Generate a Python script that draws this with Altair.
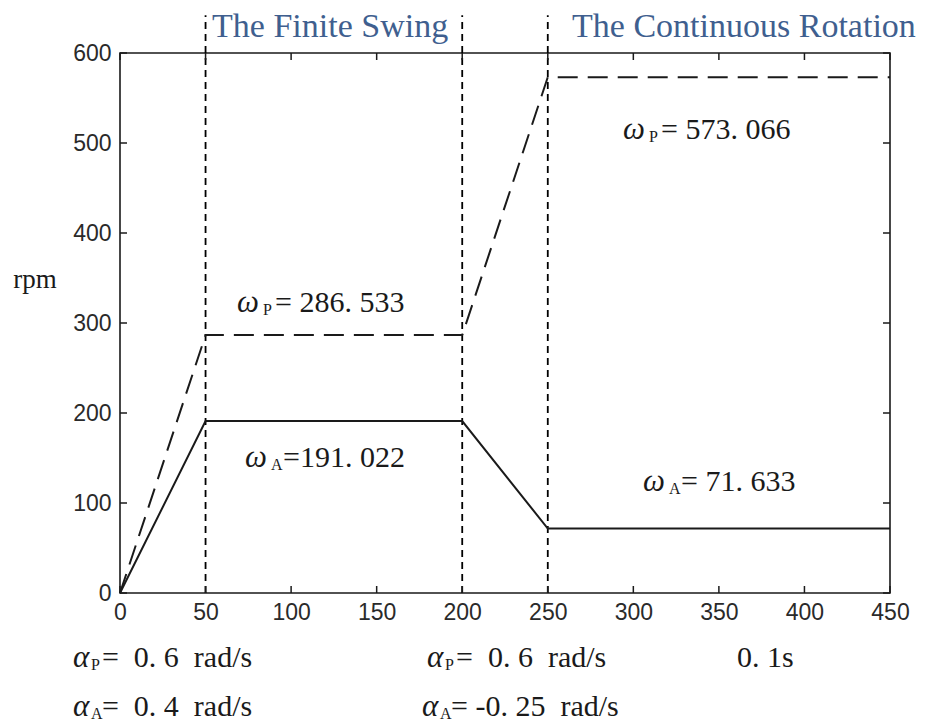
import altair as alt
import pandas as pd

# Speed profile of the two shafts (rpm) against time
t = [0, 50, 200, 250, 450]
omega_p = [0, 286.533, 286.533, 573.066, 573.066]
omega_a = [0, 191.022, 191.022, 71.633, 71.633]

phase_bounds = [50, 200, 250]
phase_names = ["The Finite Swing", "The Continuous Rotation"]
phase_name_x = [53.8, 264.2]

x_ticks = [0, 50, 100, 150, 200, 250, 300, 350, 400, 450]
y_ticks = [0, 100, 200, 300, 400, 500, 600]

# Symbol annotations: greek letter, subscript, value text, anchor (data units)
ann_greek = ["ω", "ω", "ω", "ω", "α", "α", "α", "α"]
ann_sub = ["P", "A", "P", "A", "P", "A", "P", "A"]
ann_value = [286.533, 191.022, 573.066, 71.633, 0.6, 0.4, 0.6, -0.25]
ann_kind = ["speed", "speed", "speed", "speed", "accel", "accel", "accel", "accel"]
ann_eq = ["=\u00a0", "=", "=\u00a0", "=\u00a0", "=\u00a0\u00a0", "=\u00a0\u00a0",
          "=\u00a0\u00a0", "=\u00a0"]
ann_x = [68.4, 73.1, 294.0, 305.7, -27.5, -27.5, 179.4, 176.5]
ann_y = [322.2, 150.0, 514.4, 123.3, -72.2, -126.7, -72.2, -126.7]

step_text = ["0.\u00a01s"]
step_x = [360.6]
step_y = [-72.2]

W, H = 770, 540
X_DOM = [0, 450]
Y_DOM = [0, 600]
KX = (X_DOM[1] - X_DOM[0]) / W
KY = (Y_DOM[1] - Y_DOM[0]) / H

SERIF = "Liberation Serif"
INK = "#1a1a1a"

xs = alt.Scale(domain=X_DOM, nice=False, zero=False)
ys = alt.Scale(domain=Y_DOM, nice=False, zero=False)
x_axis = alt.Axis(values=x_ticks, title=None, grid=False, domain=False, ticks=False,
                  tickSize=0, labelPadding=8, labelFont="Liberation Sans",
                  labelFontSize=23, labelColor="#2a2a2a", labelFlush=False)
y_axis = alt.Axis(values=y_ticks, title=None, grid=False, domain=False, ticks=False,
                  tickSize=0, labelPadding=9, labelFont="Liberation Sans",
                  labelFontSize=23, labelColor="#2a2a2a", labelFlush=False)


def X(field):
    return alt.X(field, type="quantitative", scale=xs, axis=x_axis)


def Y(field):
    return alt.Y(field, type="quantitative", scale=ys, axis=y_axis)


def fmt(v, kind):
    if kind == "speed":
        s = "{:.3f}".format(v)
    else:
        s = "{:g}".format(v)
    s = s.replace(".", ".\u00a0")
    return s + ("\u00a0\u00a0rad/s" if kind == "accel" else "")


series = pd.DataFrame({"t": t + t,
                       "rpm": omega_p + omega_a,
                       "shaft": ["P"] * len(t) + ["A"] * len(t)})

line_p = alt.Chart(series[series.shaft == "P"]).mark_line(
    color=INK, strokeWidth=2, strokeDash=[20, 10]).encode(x=X("t"), y=Y("rpm"))
line_a = alt.Chart(series[series.shaft == "A"]).mark_line(
    color=INK, strokeWidth=2).encode(x=X("t"), y=Y("rpm"))

# phase boundaries, running above the frame up to the phase titles
bounds = pd.DataFrame({"t": phase_bounds, "lo": [Y_DOM[0]] * 3, "hi": [642] * 3})
bound_rules = alt.Chart(bounds).mark_rule(
    color="black", strokeWidth=1.8, strokeDash=[7, 5]).encode(
    x=X("t"), y=Y("lo"), y2="hi")

titles = pd.DataFrame({"name": phase_names, "x": phase_name_x, "y": [617.8, 617.8]})
title_text = alt.Chart(titles).mark_text(
    font=SERIF, fontSize=34, color="#3f5f8f", align="left", baseline="alphabetic").encode(
    x=X("x"), y=Y("y"), text="name:N")

# inward tick marks on all four sides of the frame
xt = pd.DataFrame({"v": x_ticks})
yt = pd.DataFrame({"v": y_ticks})
tick_style = dict(color=INK, strokeWidth=1.5)
ticks_bottom = alt.Chart(xt).mark_rule(**tick_style).encode(
    x=X("v"), y=alt.value(H), y2=alt.value(H - 7))
ticks_top = alt.Chart(xt).mark_rule(**tick_style).encode(
    x=X("v"), y=alt.value(0), y2=alt.value(7))
ticks_left = alt.Chart(yt).mark_rule(**tick_style).encode(
    y=Y("v"), x=alt.value(0), x2=alt.value(7))
ticks_right = alt.Chart(yt).mark_rule(**tick_style).encode(
    y=Y("v"), x=alt.value(W), x2=alt.value(W - 7))

# symbol annotations built from the lists above
sub_off = {"ω": 26, "α": 18}
body_off = {"ω": 38, "α": 29}
ann = pd.DataFrame({
    "greek": ann_greek,
    "sub": ann_sub,
    "body": [e + fmt(v, k) for e, v, k in zip(ann_eq, ann_value, ann_kind)],
    "x": ann_x,
    "y": ann_y,
})
ann["x_sub"] = [x + sub_off[g] * KX for x, g in zip(ann_x, ann_greek)]
ann["x_body"] = [x + body_off[g] * KX for x, g in zip(ann_x, ann_greek)]
ann["y_sub"] = [y - 7 * KY for y in ann_y]

greek_text = alt.Chart(ann).mark_text(
    font=SERIF, fontSize=31, fontStyle="italic", color=INK, align="left",
    baseline="middle").encode(x=X("x"), y=Y("y"), text="greek:N")
sub_text = alt.Chart(ann).mark_text(
    font=SERIF, fontSize=16, color=INK, align="left", baseline="middle").encode(
    x=X("x_sub"), y=Y("y_sub"), text="sub:N")
body_text = alt.Chart(ann).mark_text(
    font=SERIF, fontSize=30, color=INK, align="left", baseline="middle").encode(
    x=X("x_body"), y=Y("y"), text="body:N")

steps = pd.DataFrame({"label": step_text, "x": step_x, "y": step_y})
step_label = alt.Chart(steps).mark_text(
    font=SERIF, fontSize=30, color=INK, align="left", baseline="middle").encode(
    x=X("x"), y=Y("y"), text="label:N")

unit = pd.DataFrame({"label": ["rpm"], "x": [-49.7], "y": [347.8]})
unit_label = alt.Chart(unit).mark_text(
    font=SERIF, fontSize=27, color=INK, align="center", baseline="middle").encode(
    x=X("x"), y=Y("y"), text="label:N")

chart = alt.layer(
    bound_rules, line_p, line_a,
    ticks_bottom, ticks_top, ticks_left, ticks_right,
    title_text, greek_text, sub_text, body_text, step_label, unit_label,
).properties(
    width=W, height=H,
    autosize=alt.AutoSizeParams(type="none"),
    padding={"left": 120, "top": 53, "right": 44, "bottom": 130},
    background="white",
).configure_view(stroke=INK, strokeWidth=1.6)

chart.save("out.html", embed_options={"renderer": "svg", "actions": False})
